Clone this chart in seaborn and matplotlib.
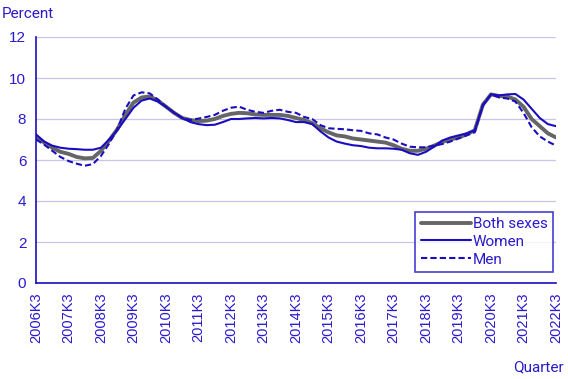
import matplotlib
matplotlib.use("Agg")
import matplotlib.pyplot as plt
import seaborn as sns
import pandas as pd
import numpy as np

years = list(range(2006, 2023))
quarters = []
for y in range(2006, 2023):
    for q in (1, 2, 3, 4):
        if (y == 2006 and q < 3) or (y == 2022 and q > 3):
            continue
        quarters.append(f"{y}K{q}")

both = [7.15, 6.85, 6.6, 6.4, 6.3, 6.15, 6.08, 6.1, 6.45, 6.95,
        7.5, 8.2, 8.8, 9.05, 9.1, 8.9, 8.6, 8.3, 8.05, 7.95,
        7.9, 7.92, 8.0, 8.15, 8.25, 8.3, 8.28, 8.22, 8.2, 8.2,
        8.2, 8.15, 8.05, 7.95, 7.8, 7.55, 7.35, 7.2, 7.15, 7.05,
        7.0, 6.95, 6.9, 6.85, 6.72, 6.55, 6.45, 6.45, 6.55, 6.7,
        6.88, 7.0, 7.1, 7.25, 7.45, 8.7, 9.2, 9.12, 9.1, 8.95,
        8.6, 8.0, 7.65, 7.3, 7.1]
women = [7.25, 6.9, 6.7, 6.6, 6.55, 6.53, 6.5, 6.5, 6.6, 7.0,
         7.45, 8.0, 8.55, 8.9, 9.0, 8.85, 8.6, 8.3, 8.05, 7.85,
         7.75, 7.7, 7.72, 7.85, 8.0, 8.0, 8.03, 8.05, 8.03, 8.05,
         8.03, 7.95, 7.85, 7.85, 7.75, 7.4, 7.1, 6.9, 6.8, 6.72,
         6.68, 6.6, 6.57, 6.57, 6.55, 6.5, 6.33, 6.25, 6.4, 6.65,
         6.95, 7.1, 7.2, 7.3, 7.45, 8.65, 9.2, 9.15, 9.2, 9.22,
         8.95, 8.5, 8.05, 7.75, 7.65]
men = [7.0, 6.75, 6.45, 6.15, 5.95, 5.82, 5.72, 5.8, 6.2, 6.8,
       7.5, 8.5, 9.15, 9.3, 9.25, 8.95, 8.6, 8.3, 8.05, 7.95,
       8.02, 8.1, 8.2, 8.4, 8.55, 8.6, 8.45, 8.35, 8.3, 8.4,
       8.45, 8.35, 8.3, 8.1, 8.0, 7.7, 7.55, 7.52, 7.5, 7.45,
       7.42, 7.3, 7.25, 7.1, 7.0, 6.8, 6.65, 6.62, 6.62, 6.7,
       6.78, 6.9, 7.05, 7.2, 7.35, 8.7, 9.2, 9.05, 9.0, 8.85,
       8.3, 7.6, 7.15, 6.9, 6.7]
series_names = ["Both sexes", "Women", "Men"]
yticks = [0, 2, 4, 6, 8, 10, 12]

BLUE = "#1a0dc0"
TEXT = "#2a1acc"
GRID = "#c8c4ee"

df = pd.DataFrame({"Quarter": quarters, "idx": np.arange(len(quarters)),
                   "Both sexes": both, "Women": women, "Men": men})
long = df.melt(id_vars=["Quarter", "idx"], value_vars=series_names,
               var_name="Series", value_name="Percent")

sns.set_style("white")
plt.rcParams["font.family"] = ["Roboto", "DejaVu Sans"]

fig = plt.figure(figsize=(5.68, 3.79), dpi=100)
ax = fig.add_axes([36/568, 1-283/379, (556-36)/568, (283-37)/379])

sns.lineplot(data=long, x="idx", y="Percent", hue="Series", style="Series",
             palette={"Both sexes": "#666666", "Women": BLUE, "Men": BLUE},
             dashes={"Both sexes": "", "Women": "", "Men": (3, 1.5)},
             size="Series", sizes={"Both sexes": 2.8, "Women": 1.5, "Men": 1.5},
             ax=ax, legend=True)

n = len(quarters)
ax.set_xlim(0, n - 1)
ax.set_ylim(0, 12)
ax.set_yticks(yticks)
ax.set_yticklabels([str(v) for v in yticks], fontsize=11, color=TEXT,
                   family=["Liberation Sans", "DejaVu Sans"])
label_pos = [i for i, q in enumerate(quarters) if q.endswith("K3")]
ax.set_xticks(label_pos)
ax.set_xticklabels([quarters[i] for i in label_pos], rotation=90, fontsize=10.5,
                   color=TEXT, family=["Liberation Sans", "DejaVu Sans"])
# only every third year gets a tick mark
for i, t in enumerate(ax.xaxis.get_major_ticks()):
    if i % 3 != 0:
        t.tick1line.set_visible(False)
ax.tick_params(axis="x", length=5, color=BLUE, pad=2)
ax.tick_params(axis="y", length=5, color=BLUE, pad=2)

ax.grid(axis="y", color=GRID, linewidth=0.9)
ax.set_axisbelow(True)
for s in ("top", "right"):
    ax.spines[s].set_visible(False)
for s in ("left", "bottom"):
    ax.spines[s].set_color(BLUE)
    ax.spines[s].set_linewidth(1.2)

ax.set_xlabel("")
ax.set_ylabel("")
fig.text(2/568, 1-14/379, "Percent", fontsize=11, color=TEXT, va="center", ha="left")
fig.text(564/568, 1-367/379, "Quarter", fontsize=11, color=TEXT, va="center", ha="right")

handles, labels = ax.get_legend_handles_labels()
hl = [(h, l) for h, l in zip(handles, labels) if l in series_names]
leg = ax.legend([h for h, _ in hl], [l for _, l in hl], loc="lower right",
                bbox_to_anchor=(553/568, 1-272/379), bbox_transform=fig.transFigure,
                frameon=True, fancybox=False, fontsize=11, handlelength=3.3,
                handletextpad=0.1, borderpad=0.35, labelspacing=0.25, borderaxespad=0)
leg.get_frame().set_edgecolor(BLUE)
leg.get_frame().set_linewidth(1.2)
for t in leg.get_texts():
    t.set_color(TEXT)

fig.savefig("out.png", dpi=100)
